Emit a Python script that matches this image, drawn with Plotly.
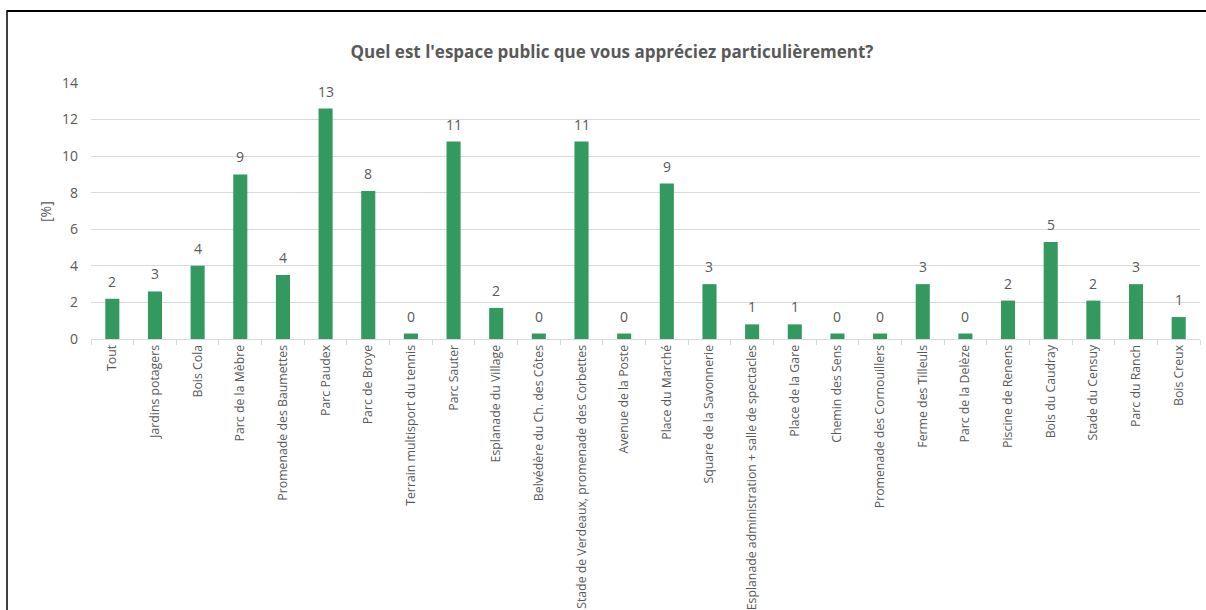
import math
import plotly.graph_objects as go

categories = [
    "Tout", "Jardins potagers", "Bois Cola", "Parc de la Mèbre",
    "Promenade des Baumettes", "Parc Paudex", "Parc de Broye",
    "Terrain multisport du tennis", "Parc Sauter", "Esplanade du Village",
    "Belvédère du Ch. des Côtes", "Stade de Verdeaux, promenade des Corbettes",
    "Avenue de la Poste", "Place du Marché", "Square de la Savonnerie",
    "Esplanade administration + salle de spectacles", "Place de la Gare",
    "Chemin des Sens", "Promenade des Cornouillers", "Ferme des Tilleuls",
    "Parc de la Delèze", "Piscine de Renens", "Bois du Caudray",
    "Stade du Censuy", "Parc du Ranch", "Bois Creux",
]
values = [
    2.2, 2.6, 4.0, 9.0, 3.5, 12.6, 8.1, 0.3, 10.8, 1.7,
    0.3, 10.8, 0.3, 8.5, 3.0, 0.8, 0.8, 0.3, 0.3, 3.0,
    0.3, 2.1, 5.3, 2.1, 3.0, 1.2,
]
y_ticks = [0, 2, 4, 6, 8, 10, 12, 14]
title_text = "Quel est l'espace public que vous appréciez particulièrement?"
y_title = "[%]"

labels = [str(int(math.floor(v + 0.5))) for v in values]

W, H = 1206, 610
L, R, T, B = 91, 6, 83, 271
pw, ph = W - L - R, H - T - B

def px_x(px):
    return (px - L) / pw

def px_y(py):
    return (H - B - py) / ph

grey = "#595959"
font_family = "Open Sans, Carlito, Liberation Sans, sans-serif"

fig = go.Figure(go.Bar(
    x=categories,
    y=values,
    marker=dict(color="#33995F", line=dict(width=0)),
))

annotations = [
    dict(x=c, y=v, text=t, xref="x", yref="y",
         showarrow=False, xanchor="center", yanchor="middle", yshift=17.5,
         font=dict(size=14, color=grey, family=font_family))
    for c, v, t in zip(categories, values, labels)
]
annotations.append(dict(
    text=y_title, textangle=-90,
    xref="paper", yref="paper",
    x=px_x(45), y=px_y(212),
    xanchor="center", yanchor="middle",
    showarrow=False,
    font=dict(size=14, color=grey, family=font_family),
))

fig.update_layout(
    width=W, height=H,
    margin=dict(l=L, r=R, t=T, b=B, autoexpand=False),
    paper_bgcolor="white", plot_bgcolor="white",
    bargap=0.67,
    showlegend=False,
    font=dict(family=font_family, color=grey, size=12),
    title=dict(
        text="<b>" + title_text + "</b>",
        x=612 / W, xref="container", xanchor="center",
        y=1 - 52 / H, yref="container", yanchor="middle",
        font=dict(size=17, color=grey, family=font_family),
    ),
    xaxis=dict(
        type="category",
        tickangle=-90,
        showgrid=False,
        showline=True, linecolor="#d9d9d9", linewidth=1,
        ticks="outside", tickson="boundaries", ticklen=5, tickcolor="#d9d9d9",
        tickfont=dict(size=12.3, color=grey),
        automargin=False,
        range=[-0.5, len(categories) - 0.5],
    ),
    yaxis=dict(
        range=[0, 14],
        tickvals=y_ticks,
        showgrid=True, gridcolor="#d9d9d9", gridwidth=1,
        zeroline=False, showline=False,
        tickfont=dict(size=14, color=grey),
        ticklabelstandoff=12,
        automargin=False,
    ),
    annotations=annotations,
    shapes=[
        dict(type="line", xref="paper", yref="paper",
             x0=px_x(7), x1=px_x(W + 5), y0=px_y(11), y1=px_y(11),
             line=dict(color="black", width=2)),
        dict(type="line", xref="paper", yref="paper",
             x0=px_x(7), x1=px_x(7), y0=px_y(10), y1=px_y(H + 5),
             line=dict(color="black", width=1.5)),
    ],
)

fig.write_html("out.html")
